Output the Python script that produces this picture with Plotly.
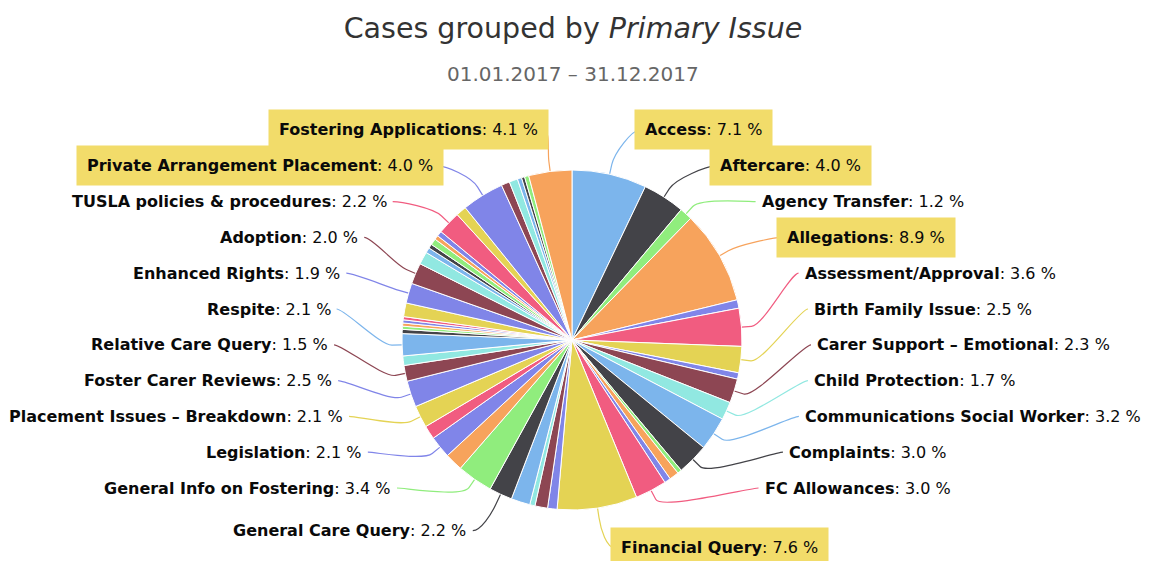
import math
import plotly.graph_objects as go

# ---------------- data ----------------
issues = [
    "Access", "Aftercare", "Agency Transfer", "Allegations", "Other issue 1",
    "Assessment/Approval", "Birth Family Issue", "Other issue 2",
    "Carer Support – Emotional", "Child Protection", "Communications Social Worker",
    "Complaints", "Other issue 3", "Other issue 4", "Other issue 5",
    "FC Allowances", "Financial Query", "Other issue 6", "Other issue 7",
    "Other issue 8", "Other issue 9", "General Care Query", "General Info on Fostering",
    "Other issue 10", "Legislation", "Other issue 11", "Placement Issues – Breakdown",
    "Foster Carer Reviews", "Relative Care Query", "Other issue 12", "Respite",
    "Other issue 13", "Other issue 14", "Other issue 15", "Other issue 16",
    "Other issue 17", "Other issue 18", "Enhanced Rights", "Adoption",
    "Other issue 19", "Other issue 20", "Other issue 21", "Other issue 22",
    "Other issue 23", "Other issue 24", "TUSLA policies & procedures",
    "Other issue 25", "Private Arrangement Placement", "Other issue 26",
    "Other issue 27", "Other issue 28", "Other issue 29", "Other issue 30",
    "Fostering Applications",
]
shares = [
    7.1, 4.0, 1.2, 8.9, 0.8,
    3.6, 2.5, 0.6,
    2.3, 1.7, 3.2,
    3.0, 0.4, 0.9, 0.6,
    3.0, 7.6, 0.9, 1.2,
    0.5, 1.8, 2.2, 3.4,
    1.7, 2.1, 1.3, 2.1,
    2.5, 1.5, 0.9, 2.1,
    0.4, 0.3, 0.3, 0.3,
    0.3, 1.3, 1.9, 2.0,
    1.2, 0.5, 0.4, 0.6,
    0.4, 0.5, 2.2,
    1.0, 4.0, 0.8,
    0.8, 0.4, 0.3, 0.4,
    4.1,
]
labelled = [
    "Access", "Aftercare", "Agency Transfer", "Allegations", "Assessment/Approval",
    "Birth Family Issue", "Carer Support – Emotional", "Child Protection",
    "Communications Social Worker", "Complaints", "FC Allowances", "Financial Query",
    "General Care Query", "General Info on Fostering", "Legislation",
    "Placement Issues – Breakdown", "Foster Carer Reviews", "Relative Care Query",
    "Respite", "Enhanced Rights", "Adoption", "TUSLA policies & procedures",
    "Private Arrangement Placement", "Fostering Applications",
]
highlighted = ["Access", "Aftercare", "Allegations", "Financial Query",
               "Private Arrangement Placement", "Fostering Applications"]

title_text = "Cases grouped by <i>Primary Issue</i>"
subtitle_text = "01.01.2017 – 31.12.2017"

# ---------------- style ----------------
PAGE_W, PAGE_H = 1151, 561
OFF = 8  # default page margin around the figure
W, H = PAGE_W - OFF, PAGE_H - OFF
palette = ["#7cb5ec", "#434348", "#90ed7d", "#f7a35c", "#8085e9",
           "#f15c80", "#e4d354", "#8085e8", "#8d4653", "#91e8e1"]
colors = [palette[i % len(palette)] for i in range(len(issues))]
CX, CY, R = 572.0, 340.0, 170.0
FONT = "DejaVu Sans"
HL = "#f2dc6a"
ROW_TOP, ROW_H, N_ROWS = 130.0, 35.8, 11
BOTTOM_R = 210.0


def px(x, y):
    """page pixel -> paper coords"""
    return (x - OFF) / W, 1 - (y - OFF) / H


def polar(theta_deg, rho):
    t = math.radians(theta_deg)
    return CX + rho * math.sin(t), CY - rho * math.cos(t)


def row_x(y, side):
    """x of the label column (an ellipse around the pie)"""
    if side > 0:
        cy, a = 344.0, 243.0
        b = 224.0 if y < cy else 232.0
    else:
        cy, a = 340.0, 242.0
        b = 212.0 if y < cy else 220.0
    q = 1 - ((y - cy) / b) ** 2
    return CX + side * a * math.sqrt(max(q, 0.0))


total = sum(shares)
mids = {}
acc = 0.0
for n, v in zip(issues, shares):
    mids[n] = (acc + v / 2) / total * 360.0
    acc += v

fig = go.Figure()
d0x, d1y = px(CX - R, CY - R)
d1x, d0y = px(CX + R, CY + R)
fig.add_trace(go.Pie(
    labels=issues, values=shares, sort=False, direction="clockwise", rotation=0,
    marker=dict(colors=colors, line=dict(color="white", width=1)),
    textinfo="none", hoverinfo="label+percent", showlegend=False,
    domain=dict(x=[d0x, d1x], y=[d0y, d1y]),
))

right = sorted([n for n in labelled if mids[n] < 180], key=lambda n: mids[n])
left = sorted([n for n in labelled if mids[n] >= 180], key=lambda n: -mids[n])

annotations = []
shapes = []
for side, group in ((1, right), (-1, left)):
    for k, name in enumerate(group):
        th = mids[name]
        if k < N_ROWS:
            ly = ROW_TOP + k * ROW_H
            tx = row_x(ly, side)
            lx = tx - side * 4
        else:
            nx, ny = polar(th, BOTTOM_R)
            ly = ny
            lx = nx + side * 11
            tx = lx + side * 5
        col = colors[issues.index(name)]
        p4 = polar(th, R)
        p2 = polar(th, R + 10)
        c2 = polar(th, R + 22)
        pts = [(lx, ly), (lx - side * 8, ly), c2, p2, p4]
        pp = [px(*p) for p in pts]
        path = "M {:.5f},{:.5f} C {:.5f},{:.5f} {:.5f},{:.5f} {:.5f},{:.5f} L {:.5f},{:.5f}".format(
            pp[0][0], pp[0][1], pp[1][0], pp[1][1], pp[2][0], pp[2][1],
            pp[3][0], pp[3][1], pp[4][0], pp[4][1])
        shapes.append(dict(type="path", path=path, xref="paper", yref="paper",
                           line=dict(color=col, width=1.2), layer="below"))
        v = shares[issues.index(name)] / total * 100
        hl = name in highlighted
        pad = 10 if hl else 0
        ax, ay = px(tx - side * pad, ly)
        annotations.append(dict(
            x=ax, y=ay, xref="paper", yref="paper", showarrow=False,
            xanchor="left" if side > 0 else "right", yanchor="middle",
            text="<b>{}</b>: {:.1f} %".format(name.replace("&", "&amp;"), v),
            font=dict(family=FONT, size=16, color="#0a0a0a"),
            bgcolor=HL if hl else None, borderpad=pad if hl else 1,
        ))

sx, sy = px(573, 74)
annotations.append(dict(x=sx, y=sy, xref="paper", yref="paper", showarrow=False,
                        text=subtitle_text, xanchor="center", yanchor="middle",
                        font=dict(family=FONT, size=20, color="#666666")))

tx_, ty_ = px(573, 28)
fig.update_layout(
    width=W, height=H, margin=dict(l=0, r=0, t=0, b=0),
    paper_bgcolor="white", plot_bgcolor="white",
    title=dict(text=title_text, x=tx_, xanchor="center", y=ty_, yanchor="middle",
               xref="paper", yref="container",
               font=dict(family=FONT, size=28.5, color="#333333")),
    annotations=annotations, shapes=shapes,
)
fig.write_html("out.html")
